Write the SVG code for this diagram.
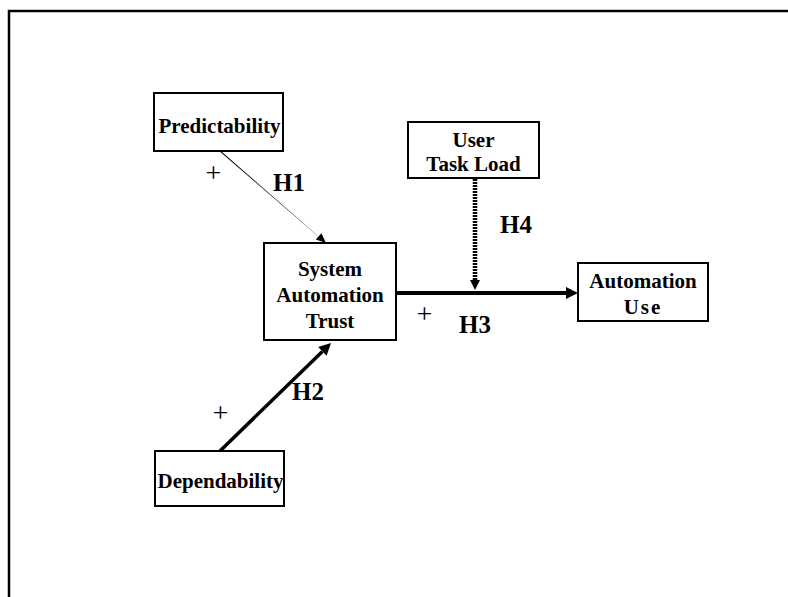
<svg xmlns="http://www.w3.org/2000/svg" width="788" height="597" viewBox="0 0 788 597">
<style>
.box{fill:#fff;stroke:#000;stroke-width:2}
.t{font-family:"Liberation Serif","Times New Roman",serif;font-weight:bold;font-size:21px;text-anchor:middle;fill:#000}
.h{font-family:"Liberation Serif","Times New Roman",serif;font-weight:bold;font-size:25px;fill:#000}
.p{font-family:"Liberation Serif","Times New Roman",serif;font-size:28px;text-anchor:middle;fill:#000}
</style>
<defs>
<marker id="ah" markerUnits="userSpaceOnUse" markerWidth="13" markerHeight="12" refX="0" refY="6" orient="auto" overflow="visible">
<path d="M0,0 L12,6 L0,12 z" fill="#000"/>
</marker>
<marker id="ahs" markerUnits="userSpaceOnUse" markerWidth="11" markerHeight="10" refX="0" refY="5" orient="auto" overflow="visible">
<path d="M0,0 L10,5 L0,10 z" fill="#000"/>
</marker>
</defs>
<rect width="788" height="597" fill="#fff"/>
<rect x="9" y="11" width="800" height="620" fill="none" stroke="#000" stroke-width="2.5"/>
<g id="connectors">
<polygon points="217.4,149.6 222.6,152.4 319.2,237.1 317.8,235.9" fill="#000"/>
<polygon points="326,243 315.8,239.6 321.4,233.2" fill="#000"/>
<line x1="220" y1="451" x2="322.4" y2="351.4" stroke="#000" stroke-width="3.5" marker-end="url(#ah)"/>
<line x1="396" y1="293" x2="566" y2="293" stroke="#000" stroke-width="4" marker-end="url(#ah)"/>
<line x1="475" y1="179" x2="475" y2="280" stroke="#000" stroke-width="4.5" stroke-dasharray="2 1" marker-end="url(#ahs)"/>
</g>
<g id="labels">
<text class="p" x="213.5" y="182">+</text>
<text class="h" x="273" y="191">H1</text>
<text class="p" x="220.5" y="422">+</text>
<text class="h" x="292" y="400">H2</text>
<text class="p" x="424.5" y="323">+</text>
<text class="h" x="459" y="333">H3</text>
<text class="h" x="500" y="233">H4</text>
</g>
<g id="predictability">
<rect class="box" x="154" y="93" width="129" height="58"/>
<text class="t" x="219.5" y="133">Predictability</text>
</g>
<g id="dependability">
<rect class="box" x="155" y="451" width="129" height="55"/>
<text class="t" x="220.5" y="488">Dependability</text>
</g>
<g id="trust">
<rect class="box" x="264" y="243" width="132" height="97"/>
<text class="t" x="330" y="276">System</text>
<text class="t" x="330" y="302">Automation</text>
<text class="t" x="330" y="328">Trust</text>
</g>
<g id="taskload">
<rect class="box" x="408" y="122" width="131" height="56"/>
<text class="t" x="473.5" y="147">User</text>
<text class="t" x="473.5" y="171">Task Load</text>
</g>
<g id="use">
<rect class="box" x="578" y="263" width="130" height="58"/>
<text class="t" x="643" y="288">Automation</text>
<text class="t" x="643" y="314" letter-spacing="2">Use</text>
</g>
</svg>
